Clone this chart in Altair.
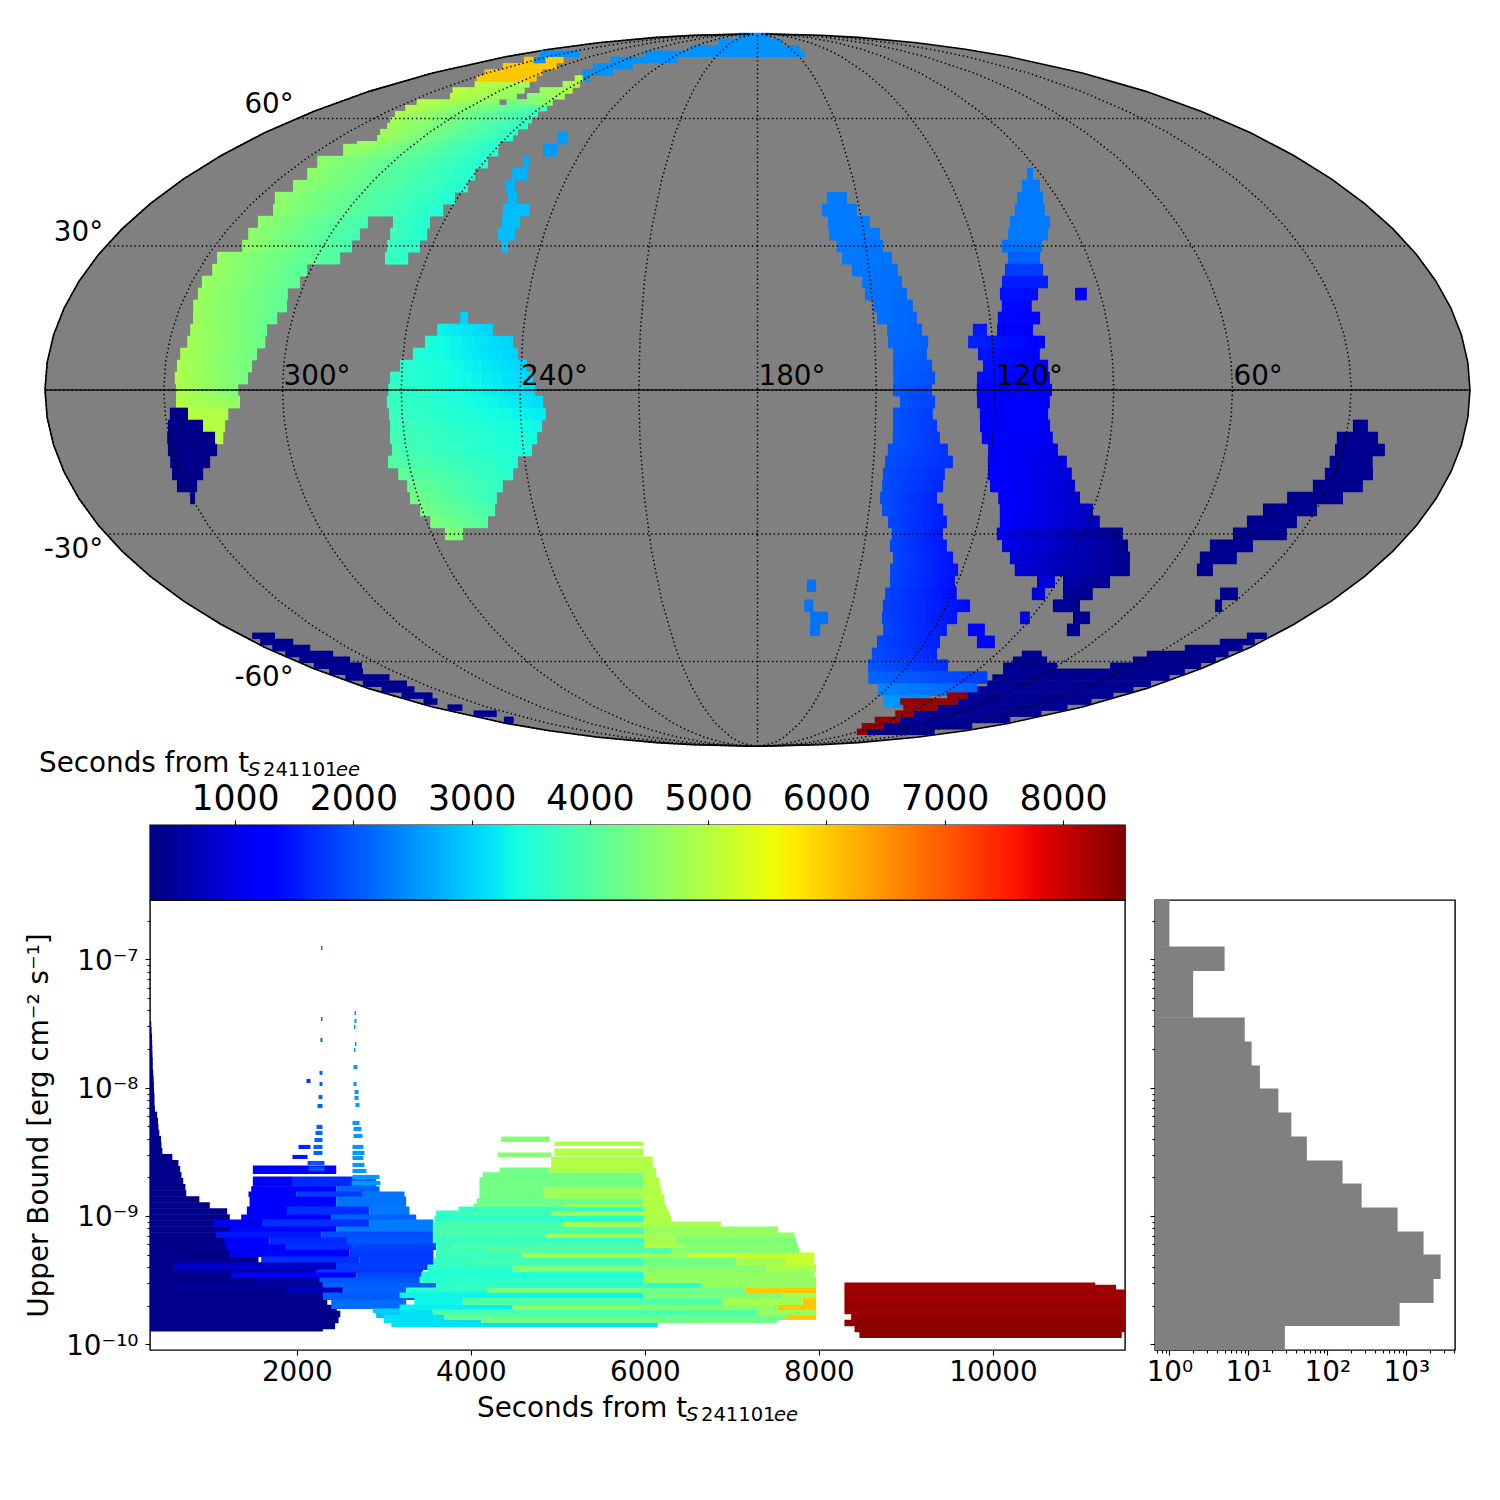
import numpy as np
import pandas as pd
import altair as alt

FONT = "DejaVu Sans"

# ---------- map: sky regions as strips (latitude, RA from, RA to, time at each end) ----------
arc_rows = [
    (-9.84, 318.8, 316.2, 5000, 5000), (-7.37, 320.8, 315.2, 5000, 4950), (-4.91, 324.2, 314.0, 5000, 4900),
    (-2.46, 327.0, 310.8, 4950, 4600), (0.0, 326.9, 311.2, 4950, 4400), (2.46, 327.3, 308.8, 4900, 4350),
    (4.91, 327.0, 308.0, 4880, 4300), (7.37, 326.6, 307.1, 4850, 4280), (9.84, 325.4, 305.5, 4800, 4250),
    (12.31, 325.4, 305.7, 4780, 4200), (14.80, 325.6, 303.9, 4750, 4150), (17.29, 326.7, 302.3, 4720, 4120),
    (19.80, 326.8, 303.2, 4700, 4100), (22.32, 327.3, 301.3, 4700, 4100), (24.85, 326.3, 300.8, 4700, 4050),
    (27.41, 327.0, 293.5, 4650, 3950), (27.41, 281.3, 275.0, 3750, 3600), (29.99, 322.3, 292.0, 4650, 3850),
    (29.99, 282.3, 273.2, 3750, 3550), (32.60, 323.1, 291.7, 4620, 3800), (32.60, 283.2, 272.8, 3800, 3500),
    (35.24, 323.1, 291.6, 4600, 3800), (35.24, 284.4, 273.8, 3800, 3500), (37.91, 321.8, 272.0, 4600, 3500),
    (40.61, 324.7, 270.7, 4600, 3500), (43.36, 323.1, 269.2, 4600, 3500), (46.15, 323.0, 269.7, 4600, 3500),
    (49.01, 324.7, 268.6, 4600, 3500), (51.92, 321.6, 268.6, 4700, 3500),
]
blob_rows = [
    (14.80, 256.7, 254.7, 3000, 3000), (12.31, 262.1, 247.8, 3300, 3000), (9.84, 264.8, 242.3, 3450, 3000),
    (7.37, 267.5, 240.8, 3500, 3000), (4.91, 270.5, 238.4, 3600, 3020), (2.46, 272.9, 236.8, 3650, 3040),
    (0.0, 273.3, 236.2, 3700, 3050), (-2.46, 273.7, 234.2, 3750, 3100), (-4.91, 273.3, 233.6, 3750, 3200),
    (-7.37, 273.3, 234.7, 3800, 3300), (-9.84, 273.7, 236.2, 3850, 3350), (-12.31, 273.7, 237.8, 3900, 3400),
    (-14.80, 275.3, 241.8, 4000, 3500), (-17.29, 273.4, 243.5, 4100, 3550), (-19.80, 271.9, 246.8, 4200, 3650),
    (-22.32, 272.1, 249.1, 4300, 3700), (-24.85, 270.5, 250.4, 4350, 3850), (-27.41, 269.0, 253.3, 4400, 4000),
    (-29.99, 266.3, 261.3, 4500, 4400),
]
small_rows = [
    (29.99, 250.8, 248.9, 2850, 2850), (32.60, 252.9, 248.1, 2850, 2850), (35.24, 253.2, 248.0, 2850, 2850),
    (37.91, 254.5, 246.6, 2850, 2850), (40.61, 254.8, 252.1, 2800, 2800), (43.36, 257.8, 254.7, 2750, 2750),
    (46.15, 257.9, 253.2, 2750, 2750), (49.01, 257.1, 254.8, 2700, 2700), (51.92, 253.3, 248.5, 2550, 2550),
    (54.92, 251.6, 248.0, 2550, 2550),
    (-41.5, 165.1, 162.3, 2250, 2250), (-46.15, 165.1, 162.3, 2250, 2250),
    (-49.01, 162.7, 156.8, 2250, 2250), (-51.92, 162.1, 158.6, 2250, 2250),
]
band_a_rows = [
    (40.61, 159.2, 153.2, 2300, 2300), (37.91, 161.1, 150.9, 2300, 2300), (35.24, 159.8, 147.8, 2300, 2300),
    (32.60, 159.9, 145.6, 2300, 2300), (29.99, 158.1, 145.3, 2300, 2250), (27.41, 157.0, 143.4, 2300, 2250),
    (24.85, 154.7, 142.3, 2280, 2220), (22.32, 152.3, 141.7, 2280, 2200), (19.80, 151.8, 140.8, 2260, 2180),
    (17.29, 150.0, 139.6, 2250, 2150), (14.80, 149.2, 138.9, 2250, 2120), (12.31, 146.8, 137.8, 2200, 2100),
    (9.84, 146.7, 136.5, 2180, 2080), (7.37, 145.6, 137.0, 2150, 2050), (4.91, 145.7, 135.8, 2120, 2000),
    (2.46, 145.7, 135.1, 2100, 1950), (0.0, 145.8, 135.9, 2050, 1900), (-2.46, 144.0, 135.1, 2000, 1850),
    (-4.91, 145.7, 135.6, 2000, 1800), (-7.37, 145.6, 134.4, 2000, 1780), (-9.84, 145.5, 133.5, 2000, 1750),
    (-12.31, 146.6, 131.2, 2000, 1720), (-14.80, 147.1, 129.6, 1950, 1700), (-17.29, 147.4, 131.3, 1950, 1650),
    (-19.80, 147.3, 131.3, 1950, 1620), (-22.32, 147.5, 132.4, 1950, 1600), (-24.85, 146.6, 130.2, 1950, 1550),
    (-27.41, 144.5, 128.5, 1900, 1520), (-29.99, 142.9, 128.8, 1900, 1500), (-32.60, 142.8, 126.8, 1900, 1480),
    (-35.24, 141.2, 124.0, 1900, 1460), (-37.91, 141.2, 121.3, 1900, 1440), (-40.61, 140.3, 120.8, 1900, 1420),
    (-43.36, 140.7, 118.6, 1880, 1400), (-46.15, 140.2, 112.5, 1850, 1400), (-49.01, 139.1, 114.4, 1880, 1450),
    (-51.92, 137.1, 115.3, 1900, 1500), (-54.92, 137.3, 114.8, 1900, 1550), (-57.98, 137.0, 112.5, 1950, 1600),
    (-61.10, 135.9, 104.0, 2000, 1700), (-64.34, 132.6, 81.6, 2150, 1800), (-67.77, 123.7, 77.4, 2400, 2100),
    (-71.40, 114.5, 90.0, 2550, 2450),
]
band_b_rows = [
    (46.15, 94.4, 92.5, 2300, 2300), (43.36, 98.5, 93.0, 2300, 2300), (40.61, 102.2, 94.4, 2300, 2300),
    (37.91, 104.7, 95.9, 2300, 2300), (35.24, 107.7, 96.2, 2300, 2300), (32.60, 109.6, 98.4, 2300, 2300),
    (29.99, 112.5, 101.4, 2250, 2250), (27.41, 111.9, 103.2, 2100, 2100), (24.85, 113.6, 103.4, 1800, 1800),
    (22.32, 115.2, 103.0, 1550, 1550), (19.80, 116.4, 106.4, 1450, 1400), (17.29, 116.5, 108.7, 1400, 1350),
    (14.80, 118.0, 107.1, 1380, 1330), (12.31, 124.8, 121.2, 1500, 1500), (12.31, 118.6, 109.4, 1350, 1300),
    (9.84, 126.3, 106.7, 1600, 1280), (7.37, 124.0, 108.3, 1500, 1280), (4.91, 122.9, 106.4, 1450, 1280),
    (2.46, 124.5, 106.1, 1400, 1270), (0.0, 124.6, 105.6, 1350, 1250), (-2.46, 124.5, 106.1, 1330, 1230),
    (-4.91, 123.7, 106.4, 1320, 1200), (-7.37, 123.5, 105.7, 1310, 1150), (-9.84, 122.8, 104.7, 1300, 1050),
    (-12.31, 120.9, 103.0, 1290, 1000), (-14.80, 120.6, 100.2, 1280, 950), (-17.29, 120.1, 98.3, 1270, 900),
    (-19.80, 119.0, 96.7, 1260, 850), (-22.32, 116.2, 94.5, 1250, 800), (-24.85, 115.0, 90.0, 1230, 750),
    (-27.41, 114.1, 86.9, 1200, 700), (-29.99, 113.9, 79.1, 1100, 400), (-32.60, 111.3, 75.9, 1050, 400),
    (-35.24, 107.7, 73.3, 950, 400), (-37.91, 104.7, 71.0, 900, 400), (-40.61, 88.4, 74.3, 600, 400),
    (-40.61, 96.2, 90.8, 900, 900), (-43.36, 85.9, 76.7, 500, 400), (-43.36, 95.5, 91.4, 900, 900),
    (-46.15, 86.2, 77.6, 500, 400), (-49.01, 76.3, 70.7, 400, 400), (-51.92, 74.3, 69.8, 400, 400),
    (19.80, 96.7, 93.6, 1300, 1300), (-51.92, 108.1, 102.3, 1350, 1350), (-54.92, 101.6, 95.2, 1350, 1350),
    (-49.01, 93.7, 90.5, 1000, 1000),
]
navy_rows = [
    (-4.91, 328.8, 324.2, 350, 350), (-7.37, 329.7, 320.8, 350, 350), (-9.84, 330.5, 318.3, 350, 350),
    (-12.31, 331.1, 318.5, 350, 350), (-14.80, 331.5, 321.2, 350, 350), (-17.29, 332.2, 324.1, 350, 350),
    (-19.80, 332.3, 327.0, 350, 350), (-22.32, 330.4, 329.1, 350, 350),
    (-7.37, 28.8, 25.0, 400, 400), (-9.84, 32.3, 21.8, 400, 400), (-12.31, 32.0, 19.2, 400, 400),
    (-14.80, 32.4, 21.3, 400, 400), (-17.29, 32.5, 20.0, 400, 400), (-19.80, 34.3, 21.2, 400, 400),
    (-22.32, 39.6, 24.8, 400, 400), (-24.85, 44.4, 29.9, 400, 400), (-27.41, 46.9, 33.3, 400, 400),
    (-29.99, 48.7, 33.8, 400, 400), (-32.60, 52.9, 40.8, 400, 400), (-35.24, 53.3, 42.7, 400, 400),
    (-37.91, 51.4, 46.7, 400, 400), (-43.36, 37.5, 32.0, 400, 400), (-46.15, 34.7, 32.5, 400, 400),
]
coarse_rows = arc_rows + blob_rows + small_rows + band_a_rows + band_b_rows + navy_rows

# narrower strips, for the high latitudes where the shapes run nearly along the parallels
top_arc_rows = [
    (53.39, 319.8, 269.9, 4750, 3520), (54.92, 315.9, 267.3, 4750, 3550), (56.44, 318.2, 267.7, 4780, 3600),
    (57.98, 319.3, 266.3, 4800, 3600), (59.52, 322.1, 267.2, 4850, 3650), (61.10, 324.7, 267.6, 4900, 3700),
    (62.75, 325.5, 266.9, 4950, 3800), (64.34, 325.9, 290.4, 5000, 4500), (64.34, 287.4, 267.6, 4250, 4600),
    (66.08, 317.3, 287.4, 5000, 4600), (66.08, 282.9, 266.0, 4450, 4800), (67.77, 322.4, 288.7, 5050, 4650),
    (67.77, 281.7, 266.3, 4650, 4950), (69.57, 319.1, 292.0, 5050, 4800), (69.57, 275.8, 267.4, 4800, 5000),
    (71.40, 326.4, 295.1, 6030, 6030), (71.40, 275.3, 270.1, 5000, 5000),
    (73.30, 332.3, 299.9, 6030, 6030), (75.30, 334.1, 301.4, 6030, 6030), (77.47, 336.6, 309.9, 6030, 6030),
]
top_streak_rows = [
    (79.8, 346.6, 316.4, 2500, 2500), (77.47, 330.0, 322.0, 2500, 2500),
    (71.40, 271.1, 267.5, 2500, 2500), (73.30, 277.5, 260.7, 2500, 2500), (75.30, 279.6, 255.4, 2500, 2500),
    (77.47, 278.5, 233.7, 2500, 2500), (79.8, 266.5, 144.1, 2500, 2500), (82.0, 240.4, 142.0, 2500, 2500),
    (84.8, 227.1, 150.3, 2500, 2500), (88.0, 223.7, 153.4, 2500, 2500),
]
south_left_rows = [
    (-53.39, 356.4, 348.4, 400, 400), (-54.92, 357.7, 345.9, 400, 400), (-56.44, 357.7, 343.8, 400, 400),
    (-57.98, 357.6, 339.6, 400, 400), (-59.52, 357.3, 337.6, 400, 400), (-61.10, 357.0, 337.8, 400, 400),
    (-62.75, 356.9, 342.9, 400, 400), (-64.34, 356.4, 337.5, 400, 400), (-66.08, 356.2, 336.5, 400, 400),
    (-67.77, 355.5, 340.1, 400, 400), (-69.57, 355.0, 339.8, 400, 400), (-71.40, 354.1, 346.8, 400, 400),
    (-73.30, 352.9, 344.6, 400, 400), (-75.30, 351.7, 337.7, 400, 400), (-77.47, 349.9, 343.3, 400, 400),
]
south_right_rows = [
    (-53.39, 9.2, 2.2, 400, 400), (-54.92, 14.8, 2.3, 400, 400), (-56.44, 23.5, 2.3, 400, 400),
    (-57.98, 33.6, 2.8, 400, 400), (-57.98, 80.6, 73.1, 400, 400), (-59.52, 34.8, 2.7, 400, 400),
    (-59.52, 81.2, 68.0, 400, 400), (-61.10, 39.3, 3.0, 400, 400), (-61.10, 82.0, 60.5, 400, 400),
    (-62.75, 78.6, 3.5, 420, 400), (-64.34, 79.5, 3.6, 420, 400), (-66.08, 77.5, 4.3, 430, 400),
    (-67.77, 77.4, 4.5, 450, 400), (-69.57, 76.9, 5.0, 450, 400), (-71.40, 75.8, 5.9, 450, 400),
    (-73.30, 79.7, 7.1, 450, 400), (-75.30, 85.8, 8.3, 450, 400), (-77.47, 84.9, 10.7, 450, 400),
    (-79.80, 83.7, 15.7, 420, 400), (-82.00, 82.0, 21.2, 420, 400),
]
red_rows = [
    (-69.57, 86.7, 76.9, 8350, 8350), (-71.40, 105.6, 75.8, 8350, 8350), (-73.30, 98.7, 79.7, 8350, 8350),
    (-75.30, 96.7, 85.8, 8350, 8350), (-77.47, 101.5, 84.9, 8350, 8350), (-79.80, 100.3, 83.7, 8350, 8350),
    (-82.00, 91.0, 82.0, 8350, 8350),
]
fine_rows = top_arc_rows + top_streak_rows + south_left_rows + south_right_rows + red_rows

lon_labels = [300, 240, 180, 120, 60]
lat_north = [60, 30]
lat_south = [-30, -60]

# ---------- lower panel: upper bound vs. time, rows of (log10 low, log10 high, t start, t end, colour time) ----------
navy_log = [-9.875, -9.859, -9.812, -9.765, -9.718, -9.671, -9.624, -9.577, -9.53, -9.483, -9.436, -9.389, -9.342,
            -9.295, -9.248, -9.201, -9.154, -9.107, -9.06, -9.013, -8.966, -8.919, -8.872, -8.825, -8.778, -8.731,
            -8.684, -8.637, -8.59, -8.543, -8.496, -8.449, -8.402, -8.355, -8.308, -8.261, -8.214, -8.167, -8.12,
            -8.073, -8.026, -7.979, -7.932, -7.885, -7.838, -7.791, -7.744, -7.697, -7.65, -7.603, -7.556, -7.509]
navy_end = [2300, 2440, 2480, 2500, 2460, 2350, 2420, 2400, 2290, 2300, 2280, 2460, 1560, 1520, 1250, 1200, 1250, 1250,
            1300, 1230, 1200, 1000, 880, 730, 720, 695, 675, 660, 640, 570, 455, 445, 440, 420, 410, 405, 395, 370,
            365, 365, 360, 358, 355, 350, 345, 345, 342, 340, 338, 336, 332, 328]

blue_rows = [
    (-8.673, -8.610, 1495, 2453, 1250), (-8.773, -8.696, 1495, 1955, 1300), (-8.773, -8.696, 1955, 2644, 1650),
    (-8.773, -8.696, 2644, 2912, 2100), (-8.813, -8.773, 1476, 2453, 1250), (-8.813, -8.773, 2453, 2951, 2100),
    (-8.852, -8.813, 1445, 1993, 1300), (-8.852, -8.813, 1993, 2759, 1800), (-8.852, -8.813, 2759, 3238, 2250),
    (-8.930, -8.852, 1457, 2453, 1300), (-8.930, -8.852, 2453, 3257, 2250), (-8.992, -8.930, 1426, 1897, 1300),
    (-8.992, -8.930, 1897, 2836, 1700), (-8.992, -8.930, 2836, 3295, 2300), (-9.031, -8.992, 1361, 2395, 1350),
    (-9.031, -8.992, 2395, 3372, 2100), (-9.086, -9.031, 1036, 1610, 1100), (-9.086, -9.031, 1610, 2836, 1700),
    (-9.086, -9.031, 2836, 3570, 2300), (-9.125, -9.086, 1227, 2453, 1350), (-9.125, -9.086, 2453, 3570, 2300),
    (-9.172, -9.125, 1074, 2280, 1500), (-9.172, -9.125, 2280, 3621, 1950), (-9.226, -9.172, 1170, 1687, 1300),
    (-9.226, -9.172, 1687, 2587, 1650), (-9.226, -9.172, 2587, 3621, 2000), (-9.265, -9.226, 1189, 1878, 1250),
    (-9.265, -9.226, 1878, 2644, 1700), (-9.265, -9.226, 2644, 3602, 1850), (-9.320, -9.265, 1227, 2606, 1250),
    (-9.320, -9.265, 2606, 3570, 1800), (-9.366, -9.320, 1591, 2721, 1700), (-9.366, -9.320, 2721, 3570, 1800),
    (-9.421, -9.366, 576, 2453, 800), (-9.421, -9.366, 2453, 3697, 1800), (-9.444, -9.421, 729, 2223, 500),
    (-9.444, -9.421, 2223, 3450, 1750), (-9.483, -9.444, 1246, 2683, 1250), (-9.483, -9.444, 2683, 3450, 1900),
    (-9.522, -9.483, 1534, 2261, 500), (-9.522, -9.483, 2261, 3450, 2000), (-9.561, -9.522, 576, 2300, 500),
    (-9.561, -9.522, 2300, 3602, 2100), (-9.600, -9.561, 1878, 2529, 700), (-9.600, -9.561, 2529, 3257, 2100),
    (-9.655, -9.600, 2300, 3736, 2050), (-9.725, -9.655, 2395, 3257, 2200), (-9.756, -9.725, 2874, 3400, 3000),
    (-9.795, -9.756, 2912, 3563, 2900), (-9.834, -9.795, 3046, 3697, 2900),
]
spike_a_log = [-6.911, -7.465, -7.628, -7.885, -7.971, -7.948, -8.073, -8.143, -8.306, -8.353, -8.408, -8.462, -8.509,
               -8.462, -8.54, -8.587, -8.633]
spike_a_t0 = [2278, 2278, 2272, 2261, 2261, 2111, 2250, 2238, 2226, 2215, 2203, 2192, 2192, 2020, 1950, 2123, 2135]
spike_a_t1 = [2295, 2295, 2295, 2295, 2295, 2157, 2295, 2295, 2295, 2295, 2295, 2295, 2295, 2157, 2123, 2318, 2318]
spike_a_c = [2150, 2150, 2100, 2100, 2100, 1750, 2100, 2100, 2100, 2100, 2100, 2100, 2100, 1600, 1500, 2000, 2000]
spike_b_log = [-7.418, -7.48, -7.527, -7.66, -7.706, -7.839, -7.971, -8.034, -8.08, -8.135, -8.275, -8.322, -8.377,
               -8.462, -8.509, -8.548, -8.602, -8.649, -8.696, -8.743]
spike_b_t0 = [2663, 2663, 2657, 2669, 2657, 2651, 2651, 2663, 2663, 2674, 2640, 2651, 2651, 2640, 2640, 2640, 2640,
              2640, 2640, 2628]
spike_b_t1 = [2680, 2686, 2674, 2686, 2674, 2697, 2686, 2709, 2709, 2720, 2720, 2743, 2755, 2766, 2778, 2766, 2778,
              2801, 2950, 2961]
green_rows = [
    (-9.834, -9.810, 3000, 4118, 3150), (-9.810, -9.772, 3000, 3697, 3150), (-9.772, -9.733, 3180, 3563, 3150),
    (-9.733, -9.694, 3180, 4482, 3250), (-9.694, -9.639, 3350, 3908, 3300), (-9.600, -9.561, 3257, 4195, 3600),
    (-9.561, -9.522, 3602, 3858, 3600),
    (-9.865, -9.834, 3085, 6148, 3150), (-9.834, -9.810, 4118, 7527, 4300), (-9.810, -9.772, 3697, 7623, 4200),
    (-9.810, -9.772, 7623, 7968, 6030), (-9.772, -9.733, 3563, 6531, 3900), (-9.772, -9.733, 6531, 7297, 4000),
    (-9.772, -9.733, 7297, 7968, 4700), (-9.733, -9.694, 4482, 7527, 4550), (-9.733, -9.694, 7527, 7968, 6030),
    (-9.694, -9.639, 3908, 6895, 4000), (-9.694, -9.639, 6895, 7814, 4800), (-9.694, -9.639, 7814, 7968, 6030),
    (-9.639, -9.600, 3180, 5984, 3300), (-9.639, -9.600, 5984, 7585, 4400), (-9.639, -9.600, 7585, 7968, 4750),
    (-9.600, -9.561, 4195, 5984, 4300), (-9.600, -9.561, 5984, 7163, 4300), (-9.600, -9.561, 7163, 7968, 6030),
    (-9.561, -9.522, 3858, 5984, 3700), (-9.561, -9.522, 5984, 6646, 3600), (-9.561, -9.522, 6646, 7968, 4650),
    (-9.522, -9.475, 3410, 5984, 3600), (-9.522, -9.475, 5984, 7968, 4650), (-9.475, -9.436, 3430, 5984, 3500),
    (-9.475, -9.436, 5984, 7948, 4650), (-9.436, -9.382, 4482, 7393, 4500), (-9.436, -9.382, 3500, 4482, 3600),
    (-9.436, -9.382, 7393, 7968, 4900), (-9.382, -9.328, 3570, 3984, 3700), (-9.382, -9.328, 3984, 5984, 3800),
    (-9.382, -9.328, 5984, 7048, 4300),
    (-9.382, -9.328, 7048, 7623, 4850), (-9.382, -9.328, 7623, 7948, 5150), (-9.328, -9.289, 3600, 4578, 3700),
    (-9.328, -9.289, 4578, 6512, 4750), (-9.328, -9.289, 6512, 7948, 5200), (-9.289, -9.250, 3600, 4195, 3800),
    (-9.289, -9.250, 4195, 6301, 4000), (-9.289, -9.250, 6301, 7776, 4500), (-9.250, -9.211, 3812, 5984, 3900),
    (-9.250, -9.211, 3600, 3812, 3750),
    (-9.250, -9.211, 5984, 6436, 4950), (-9.250, -9.211, 6436, 7757, 4500), (-9.211, -9.172, 3563, 5984, 3700),
    (-9.211, -9.172, 5984, 6359, 4850), (-9.211, -9.172, 6359, 7738, 4400), (-9.172, -9.133, 3563, 4865, 3900),
    (-9.172, -9.133, 4865, 6359, 4800), (-9.172, -9.133, 6359, 7719, 4650), (-9.133, -9.086, 3563, 5984, 3900),
    (-9.133, -9.086, 5984, 7527, 4650), (-9.086, -9.047, 3563, 5057, 3900), (-9.086, -9.047, 5057, 5984, 4750),
    (-9.086, -9.047, 5984, 6876, 4850), (-9.047, -9.000, 3582, 5984, 3600), (-9.047, -9.000, 5984, 6301, 4900),
    (-9.000, -8.961, 3831, 4923, 3800), (-9.000, -8.961, 4923, 5984, 4750), (-9.000, -8.961, 5984, 6282, 4950),
    (-9.000, -8.961, 3600, 3831, 3650), (-8.961, -8.930, 3858, 5984, 3700), (-8.961, -8.930, 5984, 6255, 4950),
    (-8.930, -8.906, 4030, 5076, 4300), (-8.930, -8.906, 5076, 5984, 4700), (-8.930, -8.906, 5984, 6244, 4950),
    (-8.906, -8.867, 4069, 5984, 4200), (-8.906, -8.867, 5984, 6225, 4950), (-8.867, -8.836, 4099, 4846, 4300),
    (-8.867, -8.836, 4846, 5984, 4700), (-8.867, -8.836, 5984, 6225, 4950), (-8.836, -8.773, 4099, 4835, 4300),
    (-8.836, -8.773, 4835, 5984, 4750), (-8.836, -8.773, 5984, 6187, 4950), (-8.773, -8.703, 4099, 5984, 4300),
    (-8.773, -8.703, 5984, 6167, 4950), (-8.703, -8.664, 4138, 5984, 4300), (-8.703, -8.664, 5984, 6129, 4950),
    (-8.664, -8.626, 4329, 4904, 4300), (-8.664, -8.626, 4904, 6129, 4900), (-8.626, -8.540, 4923, 6091, 4950),
    (-8.540, -8.509, 4310, 4923, 4500), (-8.532, -8.478, 4961, 5984, 4950), (-8.455, -8.423, 4961, 5984, 4950),
    (-8.423, -8.384, 4348, 4904, 4500),
]
red_block = [
    (-9.950, -9.906, 8465, 11480, 8450),
    (-9.906, -9.859, 8409, 11517, 8440), (-9.859, -9.812, 8293, 11517, 8420), (-9.812, -9.765, 8370, 11517, 8380),
    (-9.765, -9.718, 8293, 11517, 8300), (-9.718, -9.671, 8293, 11517, 8380), (-9.671, -9.624, 8293, 11517, 8320),
    (-9.624, -9.577, 8293, 11517, 8300), (-9.577, -9.540, 8293, 11415, 8290), (-9.540, -9.523, 8293, 11175, 8280),
]

hist_edges_log10 = [-10.047, -9.857, -9.678, -9.491, -9.304, -9.124, -8.937, -8.75, -8.571, -8.384, -8.197, -8.01,
                    -7.831, -7.644, -7.456, -7.09, -6.903, -6.539]
hist_counts = [29, 824, 2218, 2721, 1656, 776, 272, 156, 55, 35, 24, 14, 11, 9, 2, 5, 1]

cbar_ticks = [1000, 2000, 3000, 4000, 5000, 6000, 7000, 8000]
time_ticks = [2000, 4000, 6000, 8000, 10000]


# ---------- colour: matplotlib's jet as a scale ----------
def jet(v):
    r = np.interp(v, [0, .35, .66, .89, 1], [0, 0, 1, 1, .5])
    g = np.interp(v, [0, .125, .375, .64, .91, 1], [0, 0, 1, 1, 0, 0])
    b = np.interp(v, [0, .11, .34, .65, 1], [.5, 1, 1, 0, 0])
    return "#%02x%02x%02x" % (int(r * 255), int(g * 255), int(b * 255))


C_MIN, C_MAX = 281.0, 8524.0
fracs = np.linspace(0, 1, 65)
color_scale = alt.Scale(domain=[float(C_MIN + f * (C_MAX - C_MIN)) for f in fracs],
                        range=[jet(f) for f in fracs], interpolate="rgb", clamp=True)
color_enc = alt.Color("c:Q", scale=color_scale, legend=None)


# ---------- table building ----------
def strips(rows):
    out = []
    for lat, a, b, c0, c1 in rows:
        n = 1 if c0 == c1 else 14
        step = np.sign(b - a) * 0.3
        for i in range(n):
            f0, f1 = i / n, (i + 1) / n
            end = a + (b - a) * f1 + (step if i < n - 1 else 0)
            out.append(dict(lat=lat, lon0=a + (b - a) * f0, lon1=end, c=c0 + (c1 - c0) * (f0 + f1) / 2))
    return pd.DataFrame(out)


def rects(rows):
    return pd.DataFrame([dict(lo=10 ** a, hi=10 ** (b + .004), t0=t0, t1=t1, c=c) for a, b, t0, t1, c in rows])


# ---------- sky map ----------
MAP_W, MAP_H = 975, 792

sphere = alt.Chart(alt.sphere()).mark_geoshape(fill="#808080", stroke="black", strokeWidth=1.6, clip=False)
sky = alt.Chart(strips(coarse_rows)).mark_rule(strokeWidth=12.6, strokeCap="butt", clip=False).encode(
    longitude="lon0:Q", latitude="lat:Q", longitude2="lon1:Q", latitude2="lat:Q", color=color_enc)
sky_fine = alt.Chart(strips(fine_rows)).mark_rule(strokeWidth=6.5, strokeCap="butt", clip=False).encode(
    longitude="lon0:Q", latitude="lat:Q", longitude2="lon1:Q", latitude2="lat:Q", color=color_enc)
grat = alt.Chart(alt.graticule(extent=[[-180, -89.9], [180, 89.9]], step=[30, 30])).mark_geoshape(
    filled=False, stroke="black", strokeWidth=1.5, strokeDash=[1.4, 2.8], clip=False)
equator = alt.Chart(pd.DataFrame({"lon0": [359.99], "lon1": [0.01], "lat": [0.0]})).mark_rule(
    color="black", strokeWidth=1.4, opacity=0.85, clip=False).encode(
    longitude="lon0:Q", latitude="lat:Q", longitude2="lon1:Q", latitude2="lat:Q")
lon_text = alt.Chart(pd.DataFrame({"lon": lon_labels, "lat": [0] * 5,
                                   "t": [f"{v}°" for v in lon_labels]})).mark_text(
    font=FONT, fontSize=27.8, align="left", baseline="alphabetic", dx=1, dy=-5, color="black", clip=False).encode(
    longitude="lon:Q", latitude="lat:Q", text="t:N")
north_text = alt.Chart(pd.DataFrame({"lon": [359.9] * 2, "lat": lat_north,
                                     "t": [f"{v}°" for v in lat_north]})).mark_text(
    font=FONT, fontSize=27.8, align="right", baseline="alphabetic", dx=-3, dy=-5, color="black", clip=False).encode(
    longitude="lon:Q", latitude="lat:Q", text="t:N")
south_text = alt.Chart(pd.DataFrame({"lon": [359.9] * 2, "lat": lat_south,
                                     "t": [f"{v}°" for v in lat_south]})).mark_text(
    font=FONT, fontSize=27.8, align="right", baseline="alphabetic", dx=-3, dy=24, color="black", clip=False).encode(
    longitude="lon:Q", latitude="lat:Q", text="t:N")
sky_map = alt.layer(sphere, sky, sky_fine, grat, equator, lon_text, north_text, south_text).project(
    type={"expr": "'mollweide'"}, rotate=[180, 0, 0], reflectX=True, scale=251.9, translate=[607.5, 357]).properties(
    width=MAP_W, height=MAP_H, view=alt.ViewBackground(stroke="transparent"))

# ---------- colour bar ----------
one = pd.DataFrame({"a": [0]})
cb_edges = np.linspace(C_MIN, C_MAX, 326)
cb_df = pd.DataFrame({"c": (cb_edges[:-1] + cb_edges[1:]) / 2, "x0": cb_edges[:-1], "x1": cb_edges[1:]})
cbar_rect = alt.Chart(cb_df).mark_rect().encode(
    x=alt.X("x0:Q", scale=alt.Scale(domain=[C_MIN, C_MAX], nice=False, zero=False),
            axis=alt.Axis(orient="top", values=cbar_ticks, title=None, labelFontSize=34.7, labelFont=FONT,
                          labelColor="black", tickColor="black", tickSize=5, tickWidth=1.1, domain=False,
                          grid=False, labelPadding=4, labelOverlap=False, format="d")),
    x2="x1:Q", y=alt.value(0), y2=alt.value(75), color=color_enc)


def sub_title(x_left, base):
    pieces = [("Seconds from t", 0, 0, 27.8, "normal"), ("S", 209, 4, 19.5, "italic"),
              ("241101", 224, 4, 19.5, "normal"), ("ee", 297, 4, 19.5, "italic")]
    return [alt.Chart(one).mark_text(font=FONT, fontSize=s, fontStyle=st, align="left", baseline="alphabetic",
                                     color="black").encode(
        x=alt.value(x_left + dx), y=alt.value(base + dy), text=alt.value(t)) for t, dx, dy, s, st in pieces]


colorbar = alt.layer(cbar_rect, *sub_title(-111, -53)).properties(width=975, height=75)

# ---------- main panel ----------
is_major = "abs(log(datum.value)/LN10-round(log(datum.value)/LN10))<0.001"
y_ticks = [m * 10.0 ** e for e in (-10, -9, -8, -7) for m in range(1, 10) if m * 10.0 ** e <= 2.9e-7]
y_label_expr = ("abs(log(datum.value)/LN10+7)<0.001?'10⁻⁷':abs(log(datum.value)/LN10+8)<0.001?'10⁻⁸':"
                "abs(log(datum.value)/LN10+9)<0.001?'10⁻⁹':abs(log(datum.value)/LN10+10)<0.001?'10⁻¹⁰':''")
y_scale = alt.Scale(type="log", domain=[9.03e-11, 2.9e-7], nice=False)
x_scale = alt.Scale(domain=[313, 11517], nice=False, zero=False)
tick_len = {"condition": {"test": is_major, "value": 5}, "value": 3}

navy_df = pd.DataFrame({"lo": 10 ** (np.array(navy_log) - .0245), "hi": 10 ** (np.array(navy_log) + .0265),
                        "t0": 313, "t1": navy_end, "c": 360})
spike_a_df = pd.DataFrame({"lo": 10 ** (np.array(spike_a_log) - .016), "hi": 10 ** (np.array(spike_a_log) + .016),
                           "t0": spike_a_t0, "t1": spike_a_t1, "c": spike_a_c})
spike_b_df = pd.DataFrame({"lo": 10 ** (np.array(spike_b_log) - .016), "hi": 10 ** (np.array(spike_b_log) + .016),
                           "t0": spike_b_t0, "t1": spike_b_t1, "c": 2550})
rows_df = pd.concat([navy_df, rects(blue_rows), spike_a_df, spike_b_df, rects(green_rows), rects(red_block)],
                    ignore_index=True)
main_rect = alt.Chart(rows_df).mark_rect(clip=True).encode(
    x=alt.X("t0:Q", scale=x_scale,
            axis=alt.Axis(values=time_ticks, title=None, labelFontSize=27.8, labelFont=FONT, labelColor="black",
                          tickColor="black", tickSize=5, tickWidth=1.1, domain=False, grid=False, format="d",
                          labelPadding=3, labelOverlap=False)),
    x2="t1:Q",
    y=alt.Y("lo:Q", scale=y_scale,
            axis=alt.Axis(values=y_ticks, labelExpr=y_label_expr, title="Upper Bound [erg cm⁻² s⁻¹]",
                          titleFont=FONT, titleFontSize=27.8, titleFontWeight="normal", titleColor="black",
                          titlePadding=12, labelFontSize=27.8, labelFont=FONT, labelColor="black",
                          tickColor="black", tickSize=tick_len, tickWidth=1.1, domain=False, grid=False,
                          labelPadding=7, labelOffset=2, labelOverlap=False, labelBound=False, labelFlush=False)),
    y2="hi:Q", color=color_enc)
main = alt.layer(main_rect, *sub_title(327, 517)).properties(width=975, height=450)

# ---------- histogram ----------
hist_df = pd.DataFrame({"lo": 10 ** np.array(hist_edges_log10[:-1]), "hi": 10 ** (np.array(hist_edges_log10[1:]) + .003),
                        "n": hist_counts, "x0": 0.657})
x_hist_ticks = [m * 10.0 ** e for e in (-1, 0, 1, 2, 3) for m in range(1, 10) if 0.657 <= m * 10.0 ** e <= 4140]
x_hist_expr = ("abs(log(datum.value)/LN10)<0.001?'10⁰':abs(log(datum.value)/LN10-1)<0.001?'10¹':"
               "abs(log(datum.value)/LN10-2)<0.001?'10²':abs(log(datum.value)/LN10-3)<0.001?'10³':''")
hist = alt.Chart(hist_df).mark_rect(color="#808080", clip=True).encode(
    x=alt.X("x0:Q", scale=alt.Scale(type="log", domain=[0.657, 4140], nice=False),
            axis=alt.Axis(values=x_hist_ticks, labelExpr=x_hist_expr, title=None, labelFontSize=27.8, labelFont=FONT,
                          labelColor="black", tickColor="black", tickSize=tick_len, tickWidth=1.1, domain=False,
                          grid=False, labelPadding=3, labelOverlap=False, labelFlush=False, labelBound=False)),
    x2="n:Q",
    y=alt.Y("lo:Q", scale=y_scale,
            axis=alt.Axis(values=y_ticks, labels=False, title=None, tickColor="black", tickSize=tick_len,
                          tickWidth=1.1, domain=False, grid=False)),
    y2="hi:Q").properties(width=300, height=450)

blank_a = alt.Chart(one).mark_point(opacity=0).encode(
    x=alt.value(0), y=alt.value(0)).properties(width=300, height=MAP_H, view=alt.ViewBackground(stroke="transparent"))
blank_b = alt.Chart(one).mark_point(opacity=0).encode(
    x=alt.value(0), y=alt.value(0)).properties(width=300, height=75, view=alt.ViewBackground(stroke="transparent"))

chart = alt.concat(sky_map, blank_a, colorbar, blank_b, main, hist, columns=2, bounds="flush",
                   spacing={"row": 0, "column": 30}).properties(
    padding={"left": 16, "top": 21, "right": 0, "bottom": 0}
).resolve_scale(x="independent", y="independent").configure(
    font=FONT, background="white").configure_view(stroke="black", strokeWidth=1.4)

chart.save("out.html", embed_options={"renderer": "svg", "actions": False})
